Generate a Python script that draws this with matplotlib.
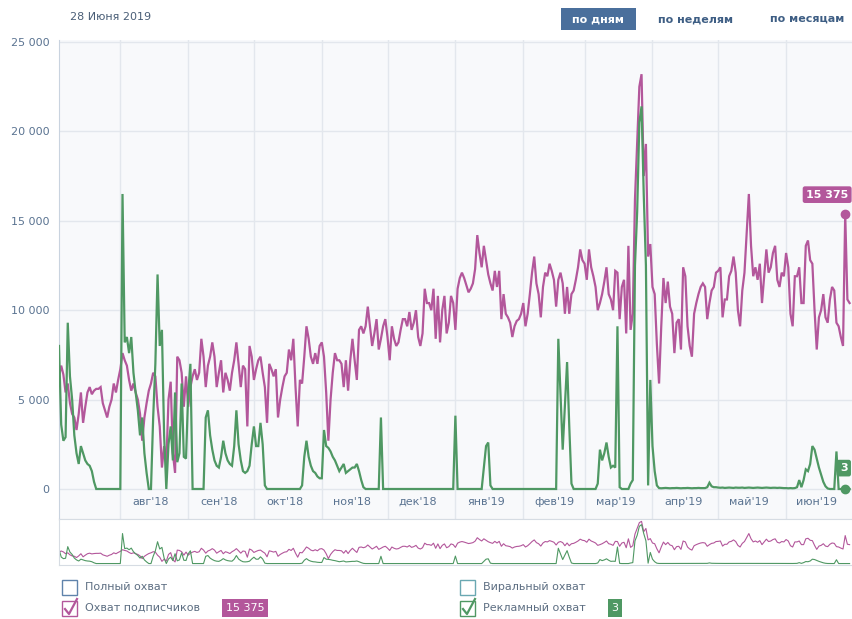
import numpy as np
import pandas as pd
import matplotlib
matplotlib.use('Agg')
import matplotlib.pyplot as plt
import matplotlib.transforms as mtransforms
from matplotlib.patches import Rectangle
from matplotlib.lines import Line2D
from matplotlib.ticker import FuncFormatter

plt.rcParams['font.family'] = ['DejaVu Sans']

# --- data (daily values, thousands of people) ---
start_date = '2018-07-04'
end_date = '2019-06-30'
hover_date = '2019-06-28'

subs_reach = [
    # jul
    6.3, 6.9, 6.4, 5.4, 5.9, 4.8, 4.2, 4.0, 3.3, 4.2, 5.4, 3.7, 4.6, 5.4, 5.7, 5.3, 5.5, 5.6, 5.6, 5.7,
    4.8, 4.4, 4.0, 4.6, 5.0, 5.9, 5.4, 6.1,
    # aug
    6.7, 7.6, 7.2, 6.9, 6.1, 5.5, 5.9, 5.4, 5.0, 4.2, 2.7, 4.0, 4.8, 5.5, 5.9, 6.5, 6.3, 4.6, 3.5, 1.2,
    2.4, 1.4, 5.0, 6.0, 2.0, 0.9, 7.4, 7.2, 6.5, 4.6, 6.3,
    # sep
    4.6, 5.7, 6.3, 6.7, 6.1, 6.5, 8.4, 7.4, 5.7, 6.9, 7.4, 8.2, 7.4, 5.7, 6.5, 7.2, 5.4, 6.5, 6.1, 5.5,
    6.5, 7.2, 8.2, 7.0, 5.7, 6.9, 6.7, 3.5, 8.0, 7.4,
    # oct
    6.1, 6.7, 7.2, 7.4, 6.5, 5.7, 3.7, 7.0, 6.7, 6.3, 6.7, 4.0, 5.0, 5.7, 6.3, 6.5, 7.8, 7.2, 8.4, 5.7,
    3.5, 6.1, 5.9, 7.4, 9.1, 8.4, 7.4, 7.0, 7.6, 7.0, 8.0,
    # nov
    8.2, 7.4, 5.4, 2.7, 5.0, 6.5, 7.6, 7.2, 7.2, 7.0, 5.7, 7.2, 5.5, 7.2, 8.4, 7.2, 6.1, 8.9, 9.1, 8.7,
    9.1, 10.2, 9.1, 8.0, 8.7, 9.5, 7.8, 8.4, 9.1, 9.5,
    # dec
    8.5, 7.2, 9.1, 8.4, 8.0, 8.2, 8.9, 9.5, 9.5, 9.1, 9.9, 8.9, 9.3, 10.0, 8.5, 8.0, 8.7, 11.2, 10.4, 10.4,
    10.0, 11.2, 8.4, 10.8, 8.2, 10.0, 10.8, 8.7, 9.3, 10.8, 10.4,
    # jan
    8.9, 11.2, 11.8, 12.1, 11.8, 11.4, 11.0, 11.2, 11.5, 12.3, 14.2, 13.2, 12.4, 13.6, 12.8, 12.0, 11.5,
    11.1, 12.2, 11.3, 12.2, 9.5, 10.9, 9.8, 9.6, 9.3, 8.5, 9.1, 9.4, 9.5, 9.8,
    # feb
    10.4, 9.1, 9.8, 10.9, 12.1, 13.0, 11.5, 10.9, 9.6, 11.3, 12.1, 11.9, 12.6, 12.2, 11.7, 10.2, 11.7,
    12.1, 11.5, 9.8, 11.3, 9.8, 10.9, 11.1, 11.7, 12.4, 13.4, 12.8,
    # mar
    12.6, 11.7, 13.4, 12.4, 11.9, 11.3, 10.0, 10.4, 10.9, 11.6, 12.4, 10.9, 10.6, 10.0, 12.2, 12.1, 9.5,
    11.3, 11.7, 8.7, 13.6, 8.9, 9.8, 16.2, 19.3, 22.5, 23.2, 17.5, 19.3, 13.0, 13.7,
    # apr
    11.3, 10.9, 8.1, 5.9, 9.1, 11.8, 10.4, 11.6, 10.2, 9.8, 7.6, 9.3, 9.5, 7.8, 12.4, 11.9, 9.1, 8.0,
    7.4, 9.8, 10.4, 10.9, 11.3, 11.5, 11.3, 9.5, 10.4, 11.1, 11.3, 12.1,
    # may
    12.2, 12.4, 9.6, 10.6, 10.6, 11.9, 12.2, 13.0, 12.1, 10.0, 9.1, 11.1, 12.1, 14.3, 16.5, 13.6, 11.9,
    12.4, 11.7, 12.6, 10.4, 11.9, 13.4, 12.1, 12.4, 13.2, 13.6, 11.7, 11.3, 12.1, 11.9,
    # jun
    13.2, 12.4, 9.8, 9.1, 11.9, 11.9, 12.4, 10.4, 10.4, 13.6, 13.9, 12.8, 12.6, 10.0, 7.8, 9.6, 10.0,
    10.9, 9.6, 9.3, 10.6, 11.3, 11.1, 9.3, 9.1, 8.5, 8.0, 15.375, 10.6, 10.4,
]

ad_reach = [
    # jul
    8.0, 3.6, 2.7, 2.9, 9.3, 6.3, 5.0, 3.0, 2.0, 1.4, 2.4, 2.0, 1.6, 1.4, 1.3, 1.0, 0.4, 0, 0, 0,
    0, 0, 0, 0, 0, 0, 0, 0,
    # aug
    0, 16.5, 8.2, 8.5, 7.6, 8.5, 6.5, 5.4, 4.4, 3.0, 4.0, 2.0, 0.9, 0, 0, 4.0, 7.0, 12.0, 8.0, 8.9,
    3.0, 0, 2.5, 3.5, 1.6, 5.4, 1.5, 2.0, 5.9, 1.8, 1.7,
    # sep
    5.4, 7.0, 0, 0, 0, 0, 0, 0, 4.0, 4.4, 3.0, 2.2, 1.6, 1.3, 1.2, 1.8, 2.7, 2.0, 1.6, 1.4,
    1.3, 2.4, 4.4, 2.5, 1.6, 1.0, 0.9, 1.0, 1.3, 2.5,
    # oct
    3.5, 2.4, 2.4, 3.7, 2.5, 0.2, 0, 0, 0, 0, 0, 0, 0, 0, 0, 0, 0, 0, 0, 0,
    0, 0, 0.2, 1.8, 2.7, 1.8, 1.3, 1.0, 0.9, 0.7, 0.6,
    # nov
    0.6, 3.3, 2.4, 2.3, 2.1, 1.8, 1.6, 1.3, 1.0, 1.2, 1.4, 0.9, 1.0, 1.1, 1.2, 1.2, 1.4, 1.0, 0.5, 0.1,
    0, 0, 0, 0, 0, 0, 0, 4.0, 0, 0,
    # dec
    0, 0, 0, 0, 0, 0, 0, 0, 0, 0, 0, 0, 0, 0, 0, 0, 0, 0, 0, 0,
    0, 0, 0, 0, 0, 0, 0, 0, 0, 0, 0,
    # jan
    4.1, 0, 0, 0, 0, 0, 0, 0, 0, 0, 0, 0, 0, 1.2, 2.4, 2.6, 0.2, 0, 0, 0,
    0, 0, 0, 0, 0, 0, 0, 0, 0, 0, 0,
    # feb
    0, 0, 0, 0, 0, 0, 0, 0, 0, 0, 0, 0, 0, 0, 0, 0, 8.4, 5.3, 2.2, 4.6,
    7.1, 3.5, 0.3, 0, 0, 0, 0, 0,
    # mar
    0, 0, 0, 0, 0, 0, 0.3, 2.2, 1.6, 2.0, 2.6, 1.8, 1.2, 1.3, 1.2, 9.1, 0.1, 0, 0, 0,
    0, 0.3, 0.5, 12.5, 15.5, 20.5, 21.4, 16.5, 12.5, 0.2, 6.1,
    # apr
    2.4, 1.0, 0.2, 0.05, 0.04, 0.05, 0.06, 0.05, 0.04, 0.05, 0.05, 0.06, 0.05, 0.04, 0.05, 0.05, 0.06,
    0.05, 0.04, 0.05, 0.05, 0.06, 0.05, 0.05, 0.05, 0.1, 0.35, 0.15, 0.1, 0.1,
    # may
    0.08, 0.07, 0.08, 0.06, 0.07, 0.08, 0.07, 0.06, 0.08, 0.07, 0.07, 0.08, 0.06, 0.07, 0.08, 0.07,
    0.06, 0.07, 0.08, 0.07, 0.06, 0.07, 0.08, 0.07, 0.06, 0.07, 0.07, 0.06, 0.07, 0.06, 0.05,
    # jun
    0.05, 0.04, 0.05, 0.04, 0.05, 0.1, 0.5, 0.1, 0.5, 1.1, 1.0, 1.4, 2.4, 2.2, 1.7, 1.2, 0.8, 0.4,
    0.15, 0.03, 0, 0, 0, 2.1, 0, 0, 0, 0.003, 0, 0,
]

month_names = ["авг'18", "сен'18", "окт'18", "ноя'18", "дек'18", "янв'19",
               "фев'19", "мар'19", "апр'19", "май'19", "июн'19"]
y_ticks = [0, 5000, 10000, 15000, 20000, 25000]
period_buttons = ['по дням', 'по неделям', 'по месяцам']
legend_items = ['Полный охват', 'Охват подписчиков', 'Виральный охват', 'Рекламный охват']

# --- preparing series ---
dates = pd.date_range(start_date, end_date, freq='D')
subs = np.array(subs_reach) * 1000
ads = np.array(ad_reach) * 1000
hover = pd.Timestamp(hover_date)
i_hover = list(dates).index(hover)
month_starts = pd.date_range('2018-08-01', '2019-06-01', freq='MS')

PURPLE = '#b3579b'
GREEN = '#4f9863'
LABEL = '#5a7391'
GRID = '#e3e7ed'

W, H = 852, 619
fig = plt.figure(figsize=(W / 100, H / 100), dpi=100)
fig.patch.set_facecolor('white')


def px_axes(x0, y0, x1, y1):
    return fig.add_axes([x0 / W, 1 - y1 / H, (x1 - x0) / W, (y1 - y0) / H])


def fx(x):
    return x / W


def fy(y):
    return 1 - y / H


# --- main chart ---
ax = px_axes(59, 40, 852, 519)
ax.set_facecolor('#f8f9fb')
ax.plot(dates, subs, color=PURPLE, lw=1.6, zorder=3, solid_joinstyle='miter')
ax.plot(dates, ads, color=GREEN, lw=1.6, zorder=4, solid_joinstyle='miter')

x_left = dates[0]
x_right = dates[0] + pd.Timedelta(days=362.1)
ax.set_xlim(x_left, x_right)
ax.set_ylim(-1678, 25112)
ax.set_yticks(y_ticks)
ax.yaxis.set_major_formatter(FuncFormatter(lambda v, p: f'{int(v):,}'.replace(',', ' ')))
ax.set_xticks(month_starts)
ax.set_xticklabels([])
ax.tick_params(axis='both', length=0, labelsize=8, colors=LABEL, pad=7)
ax.grid(True, color=GRID, lw=1, zorder=0)
ax.set_axisbelow(True)
for s in ['top', 'right']:
    ax.spines[s].set_visible(False)
ax.spines['left'].set_color('#c9d3df')
ax.spines['bottom'].set_color('#dde2e8')

# month labels sit inside the plot, below the zero line
trans = mtransforms.blended_transform_factory(ax.transData, ax.transAxes)
for m, name in zip(month_starts, month_names):
    ax.text(m + pd.Timedelta(days=14), 0.0355, name, transform=trans, ha='center', va='center',
            fontsize=8, color=LABEL)

# hover markers
ax.plot(dates[i_hover], subs[i_hover], 'o', color=PURPLE, ms=6, zorder=6)
ax.plot(dates[i_hover], ads[i_hover], 'o', color=GREEN, ms=6, zorder=6)
ax.annotate(f'{int(subs[i_hover]):,}'.replace(',', ' '), (dates[i_hover], subs[i_hover]),
            xytext=(-13, 14), textcoords='offset points', ha='center', va='center',
            fontsize=8, fontweight='bold', color='white', zorder=7,
            bbox=dict(boxstyle='round,pad=0.3,rounding_size=0.2', fc=PURPLE, ec='none'))
ax.annotate(f'{int(ads[i_hover])}', (dates[i_hover], ads[i_hover]),
            xytext=(-1, 15), textcoords='offset points', ha='center', va='center',
            fontsize=8, fontweight='bold', color='white', zorder=7,
            bbox=dict(boxstyle='round,pad=0.3,rounding_size=0.2', fc=GREEN, ec='none'))

# --- navigator strip ---
nav = px_axes(59, 519, 852, 565)
nav.set_facecolor('white')
nav.plot(dates, subs, color=PURPLE, lw=0.8)
nav.plot(dates, ads, color=GREEN, lw=0.8)
nav.set_xlim(x_left, x_right)
nav.set_ylim(-800, 24500)
nav.set_xticks([])
nav.set_yticks([])
for s in ['top', 'bottom', 'left']:
    nav.spines[s].set_color('#d6dce3')
nav.spines['right'].set_visible(False)

# --- header ---
fig.text(fx(70), fy(17), '28 Июня 2019', fontsize=8, color='#4a5e77', va='center')
fig.add_artist(Rectangle((fx(561), fy(30)), fx(75), 22 / H, transform=fig.transFigure,
                         fc='#4a6f9c', ec='none'))
for cx, txt in zip([598.5, 696, 807], period_buttons):
    col = 'white' if txt == period_buttons[0] else '#3e5e84'
    fig.text(fx(cx), fy(19), txt, fontsize=8, fontweight='bold', color=col, ha='center', va='center')

# --- legend with checkboxes ---
legend_pos = [(62, 587), (62, 608), (460, 587), (460, 608)]
box_colors = ['#5f83ab', PURPLE, '#6aa8b2', GREEN]
checked = [False, True, False, True]
for (bx, by), txt, bc, chk in zip(legend_pos, legend_items, box_colors, checked):
    fig.add_artist(Rectangle((fx(bx), fy(by + 7.5)), 15 / W, 15 / H, transform=fig.transFigure,
                             fc='white', ec=bc, lw=1))
    if chk:
        fig.add_artist(Line2D([fx(bx + 3), fx(bx + 7), fx(bx + 15)],
                              [fy(by + 1), fy(by + 6), fy(by - 9)],
                              transform=fig.transFigure, color=bc, lw=1.6))
    fig.text(fx(bx + 23), fy(by), txt, fontsize=8, color='#5d6e82', va='center')

fig.text(fx(245), fy(608), f'{int(subs[i_hover]):,}'.replace(',', ' '), fontsize=8, color='white',
         ha='center', va='center', bbox=dict(boxstyle='square,pad=0.35', fc=PURPLE, ec='none'))
fig.text(fx(615), fy(608), f'{int(ads[i_hover])}', fontsize=8, color='white',
         ha='center', va='center', bbox=dict(boxstyle='square,pad=0.35', fc=GREEN, ec='none'))

fig.savefig('out.png', dpi=100)
